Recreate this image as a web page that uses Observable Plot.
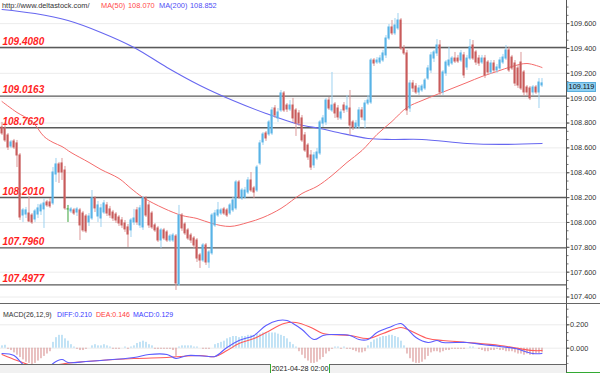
<!DOCTYPE html>
<html><head><meta charset="utf-8">
<script src="https://cdn.jsdelivr.net/npm/d3@7"></script>
<script src="https://cdn.jsdelivr.net/npm/@observablehq/plot@0.6"></script>
<style>
body{margin:0;background:#fff;}
#wrap{position:relative;width:600px;height:373px;overflow:hidden;font-family:"Liberation Sans",Arial,sans-serif;background:#fff;}
#main,#macd{position:absolute;left:0;}
#main{top:0}
#macd{top:304px}
.abs{position:absolute;white-space:nowrap;}
.leg{font-size:7.4px;line-height:9px;}
.leg2{font-size:7px;line-height:9px;}
</style></head><body><div id="wrap">
<div id="main"></div>
<div id="macd"></div>
</div>
<script>
// ---------- DATA ----------
const open = [
108.764,108.756,108.700,108.611,108.652,108.636,108.539,108.056,108.064,108.072,
108.056,108.024,108.064,108.089,108.105,108.161,108.161,108.153,108.386,108.467,
108.475,108.418,108.105,108.089,108.097,108.080,108.097,108.072,108.048,108.000,
108.032,108.193,108.048,108.032,108.080,108.137,108.105,108.080,108.064,108.040,
108.016,107.992,107.960,107.936,108.000,108.097,107.976,107.960,108.193,108.137,
108.072,107.976,107.952,107.855,107.936,107.920,107.855,107.855,107.887,107.501,
108.056,107.984,107.936,107.895,107.871,107.855,107.735,107.694,107.815,107.678,
107.751,107.976,108.056,108.072,108.105,108.097,108.072,108.097,108.113,108.322,
108.193,108.201,108.241,108.338,108.274,108.257,108.475,108.644,108.716,108.708,
108.716,108.917,108.837,108.901,109.038,108.941,108.909,108.941,108.901,108.877,
108.837,108.700,108.619,108.539,108.459,108.515,108.555,108.796,108.805,108.981,
108.901,108.949,108.917,108.837,108.941,108.909,108.917,108.805,108.764,108.772,
108.901,108.821,108.957,108.965,109.303,109.287,109.287,109.303,109.344,109.480,
109.569,109.521,109.561,109.625,109.400,109.360,108.917,109.118,109.094,109.046,
109.062,109.078,109.158,109.223,109.319,109.360,109.424,109.046,109.199,109.263,
109.279,109.319,109.319,109.303,109.344,109.247,109.319,109.424,109.368,109.319,
109.287,109.319,109.287,109.207,109.279,109.223,109.239,109.287,109.319,109.384,
109.327,109.279,109.239,109.287,109.207,109.086,109.078,109.046,109.086,109.046,
109.102];
const high = [
108.805,108.780,108.716,108.660,108.668,108.660,108.555,108.113,108.121,108.209,
108.072,108.105,108.145,108.153,108.193,108.177,108.193,108.442,108.515,108.483,
108.515,108.451,108.137,108.121,108.113,108.121,108.113,108.089,108.064,108.072,
108.257,108.209,108.169,108.145,108.177,108.161,108.129,108.097,108.080,108.056,
108.040,108.016,107.984,108.032,108.105,108.121,108.137,108.209,108.209,108.161,
108.089,107.992,107.968,107.952,107.952,107.936,107.903,107.912,107.903,108.137,
108.072,108.000,107.952,107.912,107.887,107.871,107.751,107.831,107.831,107.775,
108.072,108.097,108.161,108.113,108.121,108.113,108.153,108.201,108.338,108.338,
108.274,108.282,108.362,108.402,108.290,108.459,108.660,108.724,108.732,108.821,
108.925,108.941,108.917,109.062,109.054,108.957,108.981,108.998,108.917,108.901,
108.861,108.724,108.636,108.579,108.563,108.595,108.821,108.861,108.998,109.006,
109.207,108.965,108.941,108.909,108.965,109.022,109.062,108.821,108.821,108.925,
108.925,108.981,109.022,109.319,109.319,109.327,109.344,109.384,109.504,109.593,
109.625,109.641,109.681,109.641,109.424,109.384,109.142,109.142,109.118,109.102,
109.110,109.158,109.263,109.368,109.384,109.472,109.464,109.223,109.303,109.408,
109.335,109.368,109.344,109.384,109.368,109.344,109.472,109.464,109.384,109.344,
109.344,109.344,109.303,109.303,109.303,109.271,109.327,109.352,109.424,109.408,
109.344,109.303,109.263,109.368,109.223,109.102,109.094,109.102,109.102,109.158,
109.158];
const low = [
108.700,108.644,108.579,108.595,108.587,108.442,108.016,108.000,108.032,108.000,
107.984,108.000,108.032,108.056,107.952,108.121,108.113,108.137,108.322,108.314,
108.338,108.097,108.000,108.072,108.056,108.048,107.855,107.920,107.912,107.968,
108.016,108.080,108.000,107.960,108.064,108.048,108.032,108.008,107.992,107.968,
107.952,107.920,107.799,107.879,107.976,107.976,107.952,107.936,108.040,107.952,
107.944,107.920,107.839,107.791,107.855,107.839,107.839,107.839,107.453,107.485,
107.928,107.895,107.855,107.831,107.791,107.678,107.630,107.678,107.654,107.630,
107.735,107.960,108.040,108.056,108.056,108.040,108.056,108.080,108.097,108.185,
108.177,108.185,108.225,108.241,108.193,108.241,108.459,108.619,108.652,108.692,
108.700,108.837,108.805,108.885,108.885,108.885,108.893,108.805,108.692,108.772,
108.644,108.563,108.499,108.418,108.434,108.499,108.539,108.764,108.780,108.901,
108.885,108.837,108.821,108.821,108.877,108.885,108.700,108.740,108.748,108.748,
108.821,108.756,108.941,108.949,109.255,109.271,109.271,109.287,109.319,109.464,
109.504,109.504,109.545,109.384,109.344,108.861,108.885,109.046,109.030,109.022,
109.046,109.062,109.142,109.199,109.287,109.335,109.022,109.022,109.175,109.247,
109.263,109.279,109.279,109.287,109.158,109.223,109.303,109.303,109.263,109.255,
109.271,109.158,109.183,109.191,109.207,109.199,109.223,109.271,109.303,109.207,
109.223,109.094,109.078,109.062,109.014,109.022,108.981,109.022,109.030,108.917,
109.086];
const close = [
108.716,108.660,108.603,108.644,108.603,108.539,108.040,108.097,108.097,108.008,
108.000,108.089,108.113,108.137,108.153,108.137,108.129,108.402,108.467,108.402,
108.402,108.113,108.105,108.105,108.072,108.105,107.976,107.936,107.928,108.048,
108.193,108.113,108.137,108.113,108.153,108.072,108.056,108.032,108.016,107.992,
107.976,107.944,107.903,108.016,108.032,108.000,108.113,108.193,108.056,107.976,
107.960,107.936,107.855,107.936,107.871,107.855,107.887,107.895,107.509,108.056,
107.952,107.912,107.871,107.855,107.815,107.710,107.694,107.815,107.678,107.759,
108.056,108.072,108.097,108.097,108.072,108.056,108.137,108.177,108.322,108.201,
108.257,108.257,108.338,108.257,108.241,108.442,108.636,108.708,108.676,108.805,
108.901,108.861,108.885,109.038,108.901,108.909,108.941,108.837,108.796,108.796,
108.660,108.579,108.523,108.442,108.539,108.563,108.805,108.837,108.981,108.917,
108.941,108.877,108.845,108.885,108.901,108.933,108.780,108.764,108.796,108.901,
108.845,108.957,108.981,109.303,109.279,109.303,109.319,109.360,109.480,109.569,
109.521,109.585,109.625,109.400,109.360,108.901,109.118,109.078,109.046,109.078,
109.094,109.142,109.239,109.344,109.368,109.424,109.046,109.207,109.287,109.303,
109.319,109.295,109.295,109.360,109.183,109.319,109.408,109.319,109.287,109.279,
109.319,109.183,109.207,109.279,109.223,109.247,109.303,109.327,109.384,109.223,
109.239,109.118,109.102,109.078,109.046,109.046,108.998,109.086,109.046,109.126,
109.119];

// moving averages (bar index, value)
const ma50Idx = [0,5,10,14,17,20,23,29,33,39,43,47,54,60,65,70,76,82,87,93,100,105,110,115,120,125,130,135,140,145,150,155,160,165,170,175,180];
const ma50Val = [108.973,108.885,108.813,108.692,108.644,108.611,108.563,108.483,108.426,108.354,108.274,108.201,108.113,108.056,108.032,107.992,107.968,108.000,108.040,108.113,108.233,108.290,108.378,108.483,108.579,108.708,108.813,108.925,108.981,109.030,109.078,109.126,109.175,109.215,109.255,109.279,109.247];
const ma200Idx = [0,11,22,33,44,55,66,77,88,99,106,112,122,130,140,155,166,180];
const ma200Val = [109.714,109.681,109.625,109.529,109.408,109.247,109.102,108.981,108.877,108.788,108.756,108.724,108.676,108.668,108.668,108.636,108.628,108.636];

// horizontal levels
const levels = [109.4080, 109.0163, 108.7620, 108.2010, 107.7960, 107.4977];

// right axis ticks
const priceTicks = [107.4,107.6,107.8,108.0,108.2,108.4,108.6,108.8,109.0,109.2,109.4,109.6];
const macdTicks = [0, 0.2];

// MACD panel
const hist = [
0.02,0.025,-0.01,-0.02,-0.04,-0.06,-0.08,-0.10,-0.12,-0.13,
-0.14,-0.13,-0.11,-0.09,-0.07,-0.05,-0.03,0.05,0.09,0.11,
0.11,0.08,0.06,0.03,0.01,-0.01,-0.02,-0.02,-0.01,0.0,
0.02,0.03,0.02,0.02,0.03,0.02,0.01,-0.01,-0.01,-0.01,
0.0,0.01,-0.01,0.01,0.02,0.04,0.05,0.06,0.05,0.03,
0.02,-0.01,-0.01,-0.01,-0.01,-0.01,-0.01,-0.02,-0.07,0.01,
0.02,0.02,0.02,0.02,0.01,0.01,0.0,-0.01,-0.01,-0.01,
0.0,0.03,0.04,0.05,0.06,0.08,0.09,0.10,0.10,0.09,
0.10,0.10,0.11,0.11,0.11,0.12,0.12,0.13,0.13,0.13,
0.13,0.13,0.12,0.11,0.10,0.08,0.05,0.03,0.01,-0.03,
-0.06,-0.09,-0.11,-0.13,-0.13,-0.12,-0.10,-0.08,-0.05,-0.03,
-0.01,0.01,0.01,-0.01,0.01,-0.01,-0.01,-0.02,-0.03,-0.04,
-0.04,-0.03,0.02,0.05,0.07,0.08,0.09,0.10,0.10,0.11,
0.11,0.10,0.09,0.06,0.02,-0.05,-0.09,-0.12,-0.13,-0.13,
-0.12,-0.10,-0.07,-0.04,-0.03,-0.03,-0.04,-0.03,-0.02,-0.02,
-0.01,-0.01,-0.01,-0.01,-0.01,0.0,0.01,0.01,0.0,-0.01,
-0.02,-0.03,-0.03,-0.02,-0.02,-0.01,-0.02,-0.02,-0.03,-0.03,
-0.03,-0.04,-0.05,-0.05,-0.06,-0.05,-0.06,-0.06,-0.05,-0.05,
-0.04];
const diffIdx = [0,4,7,11,15,17,20,22,28,33,44,49,55,58,62,69,71,75,79,84,88,92,95,97,100,104,107,110,116,119,122,125,129,133,135,138,142,145,147,155,160,166,171,177,180];
const diffVal = [-0.045,-0.062,-0.139,-0.208,-0.19,-0.131,-0.097,-0.122,-0.114,-0.105,-0.079,-0.054,-0.054,-0.088,-0.062,-0.071,-0.071,0.006,0.066,0.109,0.194,0.237,0.237,0.211,0.16,0.074,0.109,0.117,0.109,0.074,0.074,0.134,0.177,0.211,0.168,0.091,0.049,0.066,0.049,0.049,0.032,0.015,-0.003,-0.045,-0.045];
const deaIdx = [0,5,10,15,21,28,44,55,66,71,75,79,84,88,94,98,103,107,116,122,127,133,136,142,147,155,166,177,180];
const deaVal = [-0.054,-0.105,-0.148,-0.156,-0.131,-0.114,-0.088,-0.079,-0.062,-0.071,-0.02,0.04,0.083,0.134,0.211,0.22,0.177,0.126,0.109,0.083,0.126,0.177,0.151,0.083,0.066,0.049,0.023,-0.02,-0.02];

// texts
const siteText = "http://www.deltastock.com/";
const maLegend = [{name:"MA(50)", value:"108.070", color:"#ff4a4a"}, {name:"MA(200)", value:"108.852", color:"#4f4ff5"}];
const macdLegend = [{t:"MACD(26,12,9)", c:"#333"}, {t:"DIFF:0.210", c:"#3b3bff"}, {t:"DEA:0.146", c:"#ff3b3b"}, {t:"MACD:0.129", c:"#3b3bff"}];
const dateLabel = "2021-04-28 02:00";

// ---------- BUILD ----------
const N = close.length;
const candles = close.map((c, i) => ({i, o: open[i], h: high[i], l: low[i], c}));
const dir = d => d.c > d.o ? "up" : d.c < d.o ? "down" : "flat";
const bodyCol = {up: "#58b3e6", down: "#c85b5b", flat: "#3aa33a"};
const wickCol = {up: "#9ed2f0", down: "#dc9898", flat: "#3aa33a"};
const xDomain = [-0.5, 188.17];
const font = "Liberation Sans, Arial, sans-serif";
const minorMain = d3.range(107.4, 109.78, 0.2 / 3);
const minorMacd = d3.range(-0.2, 0.4, 0.2 / 3);

const ma50 = ma50Idx.map((i, k) => ({i, v: ma50Val[k]}));
const ma200 = ma200Idx.map((i, k) => ({i, v: ma200Val[k]}));
const diff = diffIdx.map((i, k) => ({i, v: diffVal[k]}));
const dea = deaIdx.map((i, k) => ({i, v: deaVal[k]}));

const main = Plot.plot({
  width: 600, height: 303,
  marginLeft: 0, marginRight: 34, marginTop: 0, marginBottom: 0,
  x: {domain: xDomain, axis: null},
  y: {domain: [107.348, 109.786], axis: null},
  style: {fontFamily: font, background: "#fff", overflow: "visible"},
  marks: [
    Plot.ruleY(priceTicks, {stroke: "#ececec"}),
    Plot.ruleY(levels, {stroke: "#5a5a5a", strokeWidth: 1.3}),
    Plot.text(levels, {x: xDomain[0], y: d => d, text: d => d.toFixed(4), textAnchor: "start", dx: 2, dy: -6,
      fill: "#ff1f1f", fontWeight: "bold", fontStyle: "italic", fontSize: 10}),
    Plot.line(ma200, {x: "i", y: "v", stroke: "#6767f0", strokeWidth: 1.1, curve: "catmull-rom"}),
    Plot.line(ma50, {x: "i", y: "v", stroke: "#f46b6b", strokeWidth: 1, curve: "catmull-rom"}),
    Plot.ruleX(candles, {x: "i", y1: "l", y2: "h", stroke: d => wickCol[dir(d)], strokeWidth: 1}),
    Plot.rect(candles, {x1: d => d.i - 0.34, x2: d => d.i + 0.34, y1: "o", y2: "c",
      fill: d => bodyCol[dir(d)], insetTop: -0.5, insetBottom: -0.5}),
    Plot.axisY({anchor: "right", ticks: minorMain, tickSize: 1.5, fill: "none", stroke: "#777", label: null}),
    Plot.axisY({anchor: "right", ticks: priceTicks, tickFormat: d3.format(".3f"), tickSize: 2.5, tickPadding: 1,
      fontSize: 7.3, fill: "#333", stroke: "#555", label: null}),
    Plot.ruleX([xDomain[1]], {stroke: "#555"})
  ]
});
document.getElementById("main").append(main);

const macd = Plot.plot({
  width: 600, height: 60,
  marginLeft: 0, marginRight: 34, marginTop: 0, marginBottom: 0,
  x: {domain: xDomain, axis: null},
  y: {domain: [-0.1393, 0.3735], axis: null},
  style: {fontFamily: font, background: "#fff", overflow: "visible"},
  marks: [
    Plot.ruleY(macdTicks, {stroke: "#ececec"}),
    Plot.ruleX(hist, {x: (d, i) => i, y1: 0, y2: d => d, stroke: d => d >= 0 ? "#86c7ec" : "#d48484", strokeWidth: 1, clip: true}),
    Plot.line(dea, {x: "i", y: "v", stroke: "#ff5a5a", strokeWidth: 1.1, curve: "catmull-rom", clip: true}),
    Plot.line(diff, {x: "i", y: "v", stroke: "#5c5cff", strokeWidth: 1.1, curve: "catmull-rom", clip: true}),
    Plot.axisY({anchor: "right", ticks: minorMacd.filter(v => v > -0.139 && v < 0.37), tickSize: 1.5, fill: "none", stroke: "#777", label: null}),
    Plot.axisY({anchor: "right", ticks: macdTicks, tickFormat: d3.format(".3f"), tickSize: 2.5, tickPadding: 1,
      fontSize: 7.3, fill: "#333", stroke: "#555", label: null}),
    Plot.ruleX([xDomain[1]], {stroke: "#555"})
  ]
});
document.getElementById("macd").append(macd);

// ---------- overlays (legends, separators, price tag) ----------
const wrap = document.getElementById("wrap");
function add(html, css, cls = "abs") {
  const d = document.createElement("div");
  d.className = cls; d.innerHTML = html; Object.assign(d.style, css); wrap.append(d); return d;
}
// top legend
add(siteText, {left: "2px", top: "1px", color: "#333"}, "abs leg");
const maLeft = [[101, 128], [159, 190]];
maLegend.forEach((m, k) => {
  add(m.name, {left: maLeft[k][0] + "px", top: "1px", color: m.color}, "abs leg");
  add(m.value, {left: maLeft[k][1] + "px", top: "1px", color: m.color}, "abs leg");
});
// panel separators
add("", {left: "0px", top: "303px", width: "600px", height: "1px", background: "#666"});
add("", {left: "0px", top: "364px", width: "566px", height: "9px", background: "#f1f1f1", borderTop: "1px solid #666", boxSizing: "border-box"});
add("", {left: "566px", top: "364px", width: "34px", height: "9px", background: "#fff", borderLeft: "1px solid #555", borderBottom: "1px solid #3a3", boxSizing: "border-box"});
// MACD legend
const macdLeft = [3, 57, 96, 133];
macdLegend.forEach((m, k) => add(m.t, {left: macdLeft[k] + "px", top: "310px", color: m.c}, "abs leg2"));
// date tag
add(dateLabel, {left: "270px", top: "364px", width: "60px", height: "9px", background: "#fff", borderLeft: "1px solid #3a3", borderRight: "1px solid #3a3",
  boxSizing: "border-box", textAlign: "center", color: "#222", fontSize: "7.2px", lineHeight: "9px"});
// current price tag
const yS = main.scale("y");
const yLast = yS.apply(close[N - 1]);
add(d3.format(".3f")(close[N - 1]), {left: "567px", top: (yLast - 1) + "px", width: "29px", height: "10px", background: "#8fd0f2",
  border: "1px solid #5aaedc", boxSizing: "border-box", color: "#111", fontSize: "7.3px", lineHeight: "8px", textAlign: "center"});
</script>
</body></html>
